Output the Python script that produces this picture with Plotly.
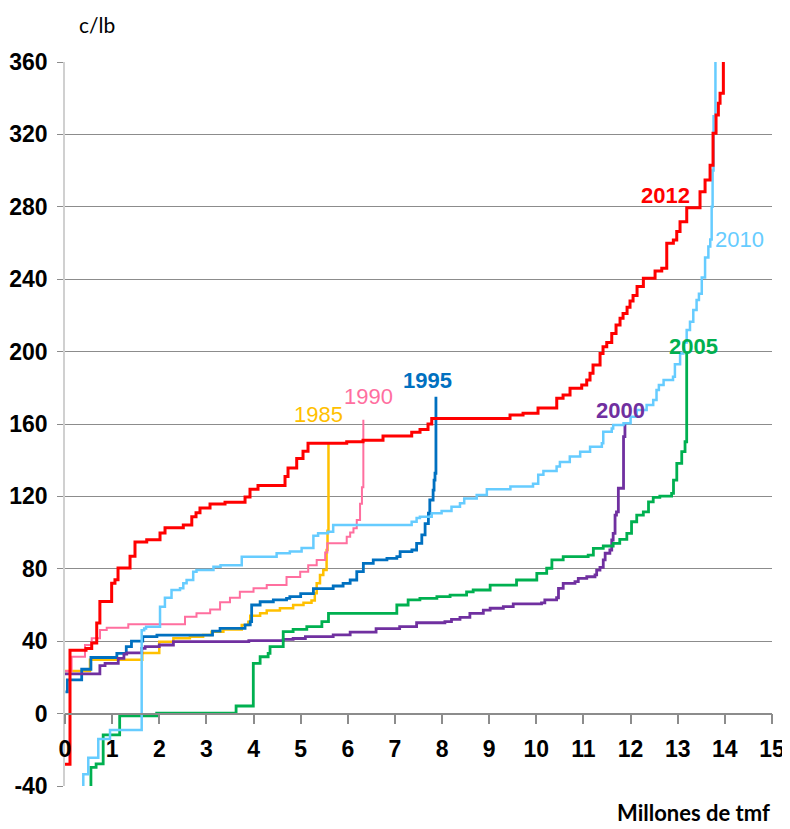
import plotly.graph_objects as go

# ---- data (cumulative production in millions tmf, cost in c/lb) ----
x_1985 = [0, 0.53, 1.64, 2.0, 2.3, 2.65, 2.93, 3.11, 3.36, 3.75, 3.89, 3.93, 4.14, 4.28, 4.56, 4.84, 5.06, 5.23, 5.3, 5.34, 5.41, 5.48, 5.55, 5.57, 5.59]
y_1985 = [23.5, 29.8, 33.5, 39.7, 41.6, 42.5, 43.4, 45.2, 46.5, 49, 50.8, 54, 55.4, 57, 58.2, 60, 61.3, 62.5, 66.5, 72, 76.6, 79.3, 90.4, 101, 149]

x_1990 = [0, 0.14, 0.424, 0.567, 0.743, 0.885, 1.343, 2.546, 2.79, 3.08, 3.29, 3.5, 3.71, 4.0, 4.28, 4.7, 4.99, 5.16, 5.34, 5.52, 5.565, 5.977, 6.05, 6.12, 6.19, 6.26, 6.3, 6.33]
y_1990 = [23.5, 31.4, 37.9, 41.6, 46.2, 47.5, 49.4, 53.5, 55.4, 57.5, 61.5, 64, 67.3, 69.2, 71, 75.5, 78.4, 82, 84.9, 89, 94.1, 97.7, 100, 102.4, 107, 116, 125, 162.3]

x_1995 = [0.01, 0.05, 0.354, 0.55, 1.1, 1.3, 1.41, 1.65, 1.95, 3.13, 3.29, 3.82, 3.93, 3.96, 4.14, 4.42, 4.7, 4.77, 5.0, 5.27, 5.69, 5.9, 6.05, 6.19, 6.33, 6.54, 6.83, 7.04, 7.11, 7.36, 7.46, 7.57, 7.64, 7.71, 7.74, 7.81, 7.83, 7.85, 7.87]
y_1995 = [12, 18.6, 24.5, 31, 33.3, 37, 40, 42.5, 43.4, 45.6, 47.1, 49, 50.8, 60, 61.8, 62.8, 63.7, 64.6, 66.3, 69, 70.5, 72, 73.8, 78.4, 83, 84.9, 85.8, 86.7, 89.5, 90.4, 94.1, 98.7, 105, 110.7, 118, 123.5, 129, 132.8, 175]

x_2000 = [0, 0.74, 0.85, 1.13, 1.25, 1.31, 1.63, 1.7, 2.0, 2.3, 3.9, 4.63, 4.84, 5.1, 5.69, 6.05, 6.6, 7.1, 7.46, 8.06, 8.2, 8.38, 8.59, 8.875, 9.02, 9.3, 9.51, 10.11, 10.18, 10.43, 10.47, 10.57, 10.82, 10.89, 11.07, 11.245, 11.28, 11.35, 11.42, 11.46, 11.56, 11.6, 11.63, 11.67, 11.7, 11.74, 11.85, 11.88]
y_2000 = [22, 26.5, 27.8, 30.5, 32.9, 33.5, 36, 37, 37.9, 39.8, 40.3, 41, 41.5, 42.5, 43.5, 45, 47, 48, 50.2, 50.8, 52.1, 53.2, 55.4, 57.2, 58.2, 59.1, 60.6, 61.2, 62.8, 64, 69.2, 72, 72.9, 74.7, 75.6, 76.6, 79.3, 80.8, 84.9, 88.6, 90.4, 95.9, 99.6, 109.7, 111.5, 124.5, 153, 161]

x_2005 = [0.55, 0.55, 0.66, 0.81, 1.16, 1.945, 3.63, 3.995, 4.14, 4.31, 4.35, 4.63, 4.84, 5.13, 5.45, 5.59, 7.04, 7.28, 7.53, 7.89, 8.17, 8.52, 8.66, 9.02, 9.58, 10.01, 10.22, 10.33, 10.57, 11.1, 11.21, 11.42, 11.63, 11.77, 11.92, 12.02, 12.13, 12.27, 12.38, 12.48, 12.62, 12.87, 12.91, 12.98, 13.085, 13.155, 13.19]
y_2005 = [-50, -29.7, -27.8, -11.8, -1.2, 0.2, 4.2, 27.8, 31.4, 33.3, 37, 45.3, 46.5, 48, 50.8, 55.4, 60, 62.8, 63.7, 64.6, 65.5, 67.3, 68.3, 71, 73.8, 77.5, 80.3, 84.9, 86.7, 87.6, 91.3, 92.6, 94.1, 96.3, 99.6, 106, 109.7, 111.5, 117, 119.5, 120.2, 121.7, 129, 138.3, 144.7, 150.2, 200]

x_2010 = [0.388, 0.388, 0.494, 0.706, 0.955, 1.627, 1.68, 1.72, 2.016, 2.12, 2.26, 2.44, 2.51, 2.58, 2.72, 2.79, 3.15, 3.3, 3.75, 4.49, 4.77, 5.02, 5.27, 5.37, 5.58, 5.69, 7.355, 7.46, 7.53, 7.78, 7.99, 8.2, 8.38, 8.47, 8.735, 8.95, 9.45, 9.93, 10.04, 10.15, 10.43, 10.5, 10.71, 10.93, 11.14, 11.39, 11.42, 11.6, 11.63, 11.85, 12.0, 12.13, 12.34, 12.48, 12.55, 12.6, 12.7, 12.9, 12.94, 13.05, 13.12, 13.19, 13.26, 13.33, 13.4, 13.45, 13.51, 13.58, 13.65, 13.69, 13.72, 13.74, 13.76, 13.8]
y_2010 = [-50, -33.5, -24.4, -14, -9, 46, 47, 48, 59, 64, 68.3, 69.2, 72, 73.8, 78.4, 79.3, 81.2, 82, 86.7, 88.6, 89.5, 91.5, 98.3, 99.6, 100.5, 104.2, 106, 108, 108.8, 110.7, 112, 114.3, 116.2, 118.9, 120.8, 124, 125.5, 127, 132, 134, 136.5, 139, 142, 144.7, 147.5, 149.3, 155.7, 157.5, 159.4, 160.4, 164, 167.7, 170.5, 173.3, 178.8, 181.5, 184.3, 186.1, 193, 199, 205, 212, 216.5, 223, 228.5, 232, 241, 252, 258, 262, 280, 300, 330, 380]

x_2012 = [0, 0.106, 0.446, 0.567, 0.673, 0.74, 0.99, 1.06, 1.125, 1.38, 1.485, 1.734, 2.016, 2.122, 2.51, 2.69, 2.78, 2.864, 3.077, 3.395, 3.82, 3.925, 4.095, 4.668, 4.732, 4.916, 5.05, 5.156, 5.977, 6.323, 6.747, 7.356, 7.532, 7.702, 7.781, 9.442, 9.718, 10.036, 10.433, 10.567, 10.715, 10.963, 11.069, 11.139, 11.203, 11.352, 11.415, 11.494, 11.6, 11.691, 11.776, 11.84, 11.925, 11.988, 12.052, 12.137, 12.271, 12.519, 12.661, 12.767, 12.907, 12.979, 13.049, 13.191, 13.473, 13.58, 13.686, 13.749, 13.813, 13.862, 13.898, 13.968]
y_2012 = [-28, 35, 36, 39, 50, 62, 72, 74, 80.5, 87, 94.8, 96, 99.8, 102.7, 104.2, 108.8, 111, 113.6, 115.8, 116.7, 119.7, 124, 126, 131, 135.7, 141, 145, 149.3, 150.2, 151, 153.4, 155.4, 156.9, 160, 163, 165, 166, 168.8, 174.2, 176, 179.7, 181.5, 184.3, 188, 192.6, 199, 202.7, 205, 210, 214.7, 218.4, 221, 224.5, 228, 231, 236, 240.5, 244.5, 246, 259.8, 261.7, 266.3, 271.8, 279.5, 288.3, 294.8, 303, 320.6, 330.7, 337.2, 342.7, 380]

years = ["1985", "1990", "1995", "2000", "2005", "2010", "2012"]
colors = ["#FFC000", "#FF6F9F", "#0070C0", "#7030A0", "#00B050", "#66CCFF", "#FF0000"]
widths = [2.5, 2, 2.8, 2.8, 2.8, 2.5, 3]
xs = [x_1985, x_1990, x_1995, x_2000, x_2005, x_2010, x_2012]
ys = [y_1985, y_1990, y_1995, y_2000, y_2005, y_2010, y_2012]

# label anchor points (data coords) and weights
label_x = [5.37, 6.43, 7.7, 11.78, 13.33, 14.32, 12.75]
label_y = [165.5, 175, 183.8, 167.7, 203, 262, 286]
label_bold = [False, False, True, True, True, False, True]

x_ticks = list(range(0, 16))
y_ticks = list(range(-40, 361, 40))

fig = go.Figure()
for yr, c, w, xv, yv in zip(years, colors, widths, xs, ys):
    fig.add_trace(go.Scatter(x=xv, y=yv, mode="lines", name=yr,
                             line=dict(color=c, width=w, shape="hv"),
                             hoverinfo="skip"))

tickfam = "Liberation Sans, Arial, sans-serif"
for yr, c, lx, ly, b in zip(years, colors, label_x, label_y, label_bold):
    fig.add_annotation(x=lx, y=ly, text=yr,
                       showarrow=False, xanchor="center", yanchor="middle",
                       font=dict(family=tickfam, size=22, color=c,
                                 weight="bold" if b else "normal"))

fig.add_annotation(xref="paper", yref="paper", x=0.017, y=1.0718, text="c/lb",
                   showarrow=False, xanchor="left", yanchor="top",
                   font=dict(family="Lato, Open Sans, sans-serif", size=21, color="#000000"))
fig.add_annotation(xref="paper", yref="paper", x=1.0, y=-0.037, text="Millones de tmf",
                   showarrow=False, xanchor="right", yanchor="middle",
                   font=dict(family="Lato, Open Sans, sans-serif", size=22, color="#000000",
                             weight="bold"))

fig.update_layout(
    width=782, height=821, autosize=False,
    margin=dict(l=57, r=18, t=54, b=43, autoexpand=False),
    paper_bgcolor="white", plot_bgcolor="white",
    showlegend=False,
    xaxis=dict(range=[0, 15], tickvals=x_ticks, ticktext=[str(v) for v in x_ticks],
               anchor="free", position=0.1, automargin=False,
               showline=True, linecolor="#8C8C8C", linewidth=1.5,
               ticks="outside", ticklen=10, tickcolor="#8C8C8C", tickwidth=1.5,
               showgrid=False, zeroline=False,
               tickfont=dict(family=tickfam, size=23, color="#000000", weight="bold"),
               ticklabelstandoff=5),
    yaxis=dict(range=[-40, 360], tickvals=y_ticks, ticktext=[str(v) for v in y_ticks],
               automargin=False,
               showline=True, linecolor="#D0D0D0", linewidth=1.5,
               ticks="outside", ticklen=6, tickcolor="#8C8C8C",
               showgrid=True, gridcolor="#8C8C8C", gridwidth=1.2,
               zeroline=False,
               tickfont=dict(family=tickfam, size=23, color="#000000", weight="bold"),
               ticklabelstandoff=5),
)

fig.write_html("out.html")
